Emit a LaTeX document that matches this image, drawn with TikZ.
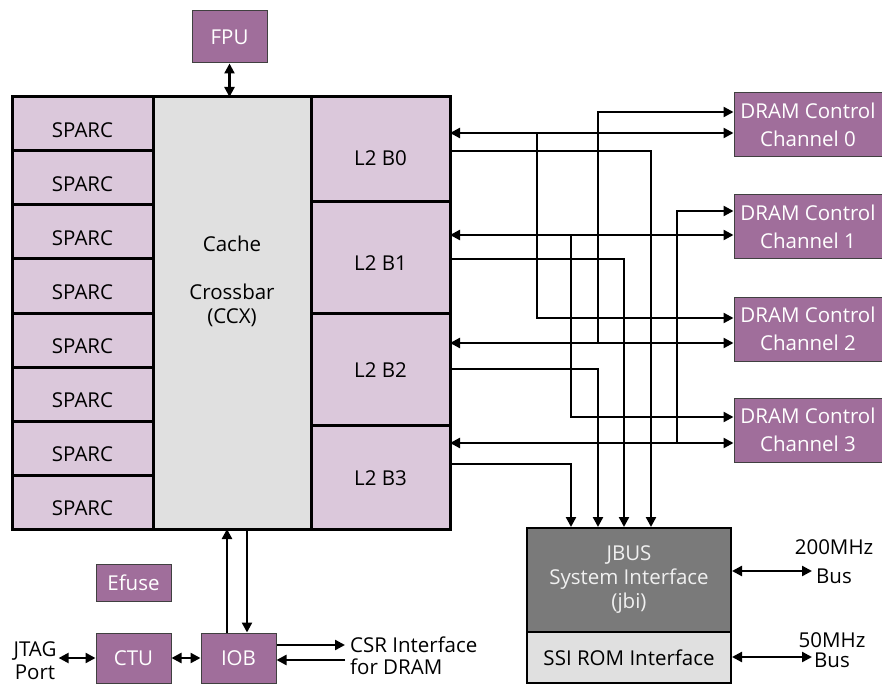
\documentclass[tikz,border=0pt]{standalone}
\usepackage{fontspec}
\setmainfont{Open Sans}
\usepackage{xcolor}
\usepackage{tikz}
\usetikzlibrary{arrows.meta, positioning, calc}

\definecolor{unitviolet}{RGB}{160,110,155}
\definecolor{cellviolet}{RGB}{219,200,219}
\definecolor{xbargray}{RGB}{224,224,224}
\definecolor{jbigray}{RGB}{122,122,122}

\begin{document}
\begin{tikzpicture}[
    x=1pt, y=-1pt,
    font=\fontsize{20.5}{24}\selectfont,
    cell/.style={rectangle, draw, line width=3pt, fill=cellviolet, outer sep=0pt, inner sep=0pt, text depth=0pt},
    sparccell/.style={cell, minimum width=141pt, minimum height=54pt, text height=27pt},
    l2cell/.style={cell, minimum width=139pt, text height=16pt},
    unit/.style={rectangle, draw=black!75, line width=1pt, fill=unitviolet, text=white, inner sep=0pt, align=center},
    jbiblock/.style={rectangle, draw, line width=2pt, minimum width=204pt, inner sep=0pt, align=center},
    arr/.style={-{Triangle[length=10pt, width=10pt]}, line width=2.3pt},
    dbl/.style={{Triangle[length=10pt, width=10pt]}-{Triangle[length=10pt, width=10pt]}, line width=2.3pt},
]
\useasboundingbox (0,0) rectangle (882,684);

% ---- SPARC cores ----
\node[sparccell] (sparc0) at (82.5,124) {SPARC};
\node[sparccell, below=0pt of sparc0] (sparc1) {SPARC};
\node[sparccell, below=0pt of sparc1] (sparc2) {SPARC};
\node[sparccell, below=0pt of sparc2] (sparc3) {SPARC};
\node[sparccell, below=0pt of sparc3] (sparc4) {SPARC};
\node[sparccell, below=0pt of sparc4] (sparc5) {SPARC};
\node[sparccell, below=0pt of sparc5] (sparc6) {SPARC};
\node[sparccell, below=0pt of sparc6] (sparc7) {SPARC};

% ---- Crossbar ----
\node[rectangle, draw, line width=3pt, fill=xbargray, outer sep=0pt, minimum width=158pt, minimum height=432pt,
      label={[align=center, yshift=32pt]center:Cache\\[24pt]Crossbar\\(CCX)}] (ccx) at (232,313) {};

% ---- L2 banks ----
\node[l2cell, minimum height=105pt, text height=33pt] (l2b0) at (380.5,149.5) {L2 B0};
\node[l2cell, minimum height=111pt, text height=25pt] (l2b1) at (380.5,257.5) {L2 B1};
\node[l2cell, minimum height=112pt] (l2b2) at (380.5,369) {L2 B2};
\node[l2cell, minimum height=104pt] (l2b3) at (380.5,477) {L2 B3};

% ---- FPU ----
\node[unit, minimum width=75pt, minimum height=52pt] (fpu) at (229.5,37) {FPU};
\draw[dbl] (fpu.south) -- (fpu.south |- ccx.north);

% ---- DRAM controllers ----
\node[unit, minimum width=148pt, minimum height=64pt] (dram0) at (808,125) {DRAM Control\\[4pt]Channel 0};
\node[unit, minimum width=148pt, minimum height=64pt] (dram1) at (808,227) {DRAM Control\\[4pt]Channel 1};
\node[unit, minimum width=148pt, minimum height=64pt] (dram2) at (808,329) {DRAM Control\\[4pt]Channel 2};
\node[unit, minimum width=148pt, minimum height=64pt] (dram3) at (808,430) {DRAM Control\\[4pt]Channel 3};

% ---- JBUS and SSI ----
\node[jbiblock, fill=jbigray, text=white!94!black, minimum height=104pt] (jbus) at (629,580) {JBUS\\System Interface\\(jbi)};
\node[jbiblock, fill=xbargray, minimum height=51pt] (ssi) at (629,657.5) {SSI ROM Interface};

\node[align=center] (bus200) at (834,562) {200MHz\\[5pt]Bus};
\node[align=center] (bus50) at (832,650.5) {50MHz\\[-4pt]Bus};
\coordinate (p200) at (812,571);
\coordinate (p50) at (812,657);
\draw[dbl] (jbus.east |- p200) -- (p200);
\draw[dbl] (ssi.east |- p50) -- (p50);

% ---- L2 <-> DRAM ----
\coordinate (tap0) at (537,133);
\coordinate (tap1) at (571,235);
\coordinate (tap2) at (598,343);
\coordinate (tap3) at (677,443);

\draw[dbl] (l2b0.east |- tap0) -- (dram0.west |- tap0);
\draw[dbl] (l2b1.east |- tap1) -- (dram1.west |- tap1);
\draw[dbl] (l2b2.east |- tap2) -- (dram2.west |- tap2);
\draw[dbl] (l2b3.east |- tap3) -- (dram3.west |- tap3);

\draw[arr] (tap0) |- (dram2.west |- 0,318);
\draw[arr] (tap1) |- (dram3.west |- 0,417);
\draw[arr] (tap2) |- (dram0.west |- 0,112);
\draw[arr] (tap3) |- (dram1.west |- 0,211);

% ---- L2 -> JBUS ----
\draw[arr] (l2b0.east |- 0,151) -| (jbus.north -| 651,0);
\draw[arr] (l2b1.east |- 0,259) -| (jbus.north -| 624,0);
\draw[arr] (l2b2.east |- 0,369) -| (jbus.north -| 598,0);
\draw[arr] (l2b3.east |- 0,464) -| (jbus.north -| 571,0);

% ---- IO side ----
\node[unit, minimum width=75pt, minimum height=37pt] (efuse) at (133.5,582.5) {Efuse};
\node[unit, minimum width=75pt, minimum height=50pt] (ctu) at (133.5,658) {CTU};
\node[unit, minimum width=75pt, minimum height=50pt] (iob) at (238.5,658) {IOB};
\node[align=center, inner sep=2pt] (jtag) at (35,661) {JTAG\\[-1pt]Port};
\node[align=left, anchor=west, inner xsep=5pt, inner ysep=0pt] (csr) at (345,656) {CSR Interface\\[-2pt]for DRAM};

\draw[arr] (iob.north -| 227,0) -- (ccx.south -| 227,0);
\draw[arr] (ccx.south -| 247,0) -- (iob.north -| 247,0);
\draw[dbl] (ctu) -- (iob);
\draw[dbl] (jtag.east |- ctu.west) -- (ctu.west);
\draw[arr] (iob.east |- 0,645) -- (csr.west |- 0,645);
\draw[arr] (csr.west |- 0,660) -- (iob.east |- 0,660);

\end{tikzpicture}
\end{document}
